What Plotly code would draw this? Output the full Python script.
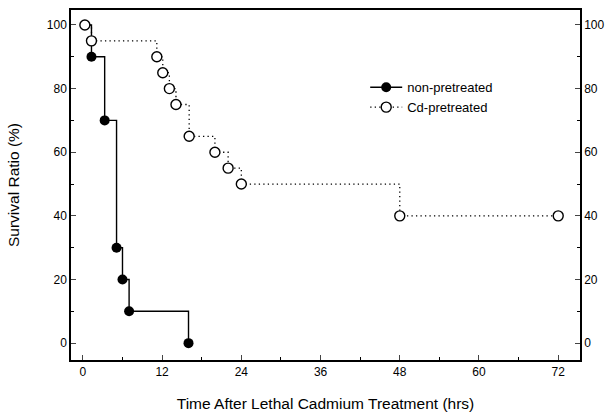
import plotly.graph_objects as go

# Data
non_time = [0.3, 1.3, 3.3, 5.1, 6.0, 7.0, 16.0]
non_surv = [100, 90, 70, 30, 20, 10, 0]
cd_time = [0.3, 1.3, 11.2, 12.1, 13.1, 14.1, 16.1, 20.0, 22.0, 24.0, 48.0, 72.0]
cd_surv = [100, 95, 90, 85, 80, 75, 65, 60, 55, 50, 40, 40]
x_ticks = [0, 12, 24, 36, 48, 60, 72]
y_ticks = [0, 20, 40, 60, 80, 100]

DOT = "1.3px,3.2px"

fig = go.Figure()

# non-pretreated: step line (starts at t0 without a visible marker)
fig.add_trace(go.Scatter(
    x=non_time, y=non_surv, mode="lines", line=dict(shape="hv", color="black", width=1.4),
    showlegend=False, hoverinfo="skip"))
fig.add_trace(go.Scatter(
    x=non_time[1:], y=non_surv[1:], mode="markers",
    marker=dict(symbol="circle", size=10, color="black"),
    showlegend=False))
# Cd-pretreated
fig.add_trace(go.Scatter(
    x=cd_time, y=cd_surv, mode="lines+markers",
    line=dict(shape="hv", color="black", width=1.3, dash=DOT),
    marker=dict(symbol="circle", size=10, color="white", line=dict(color="black", width=1.4)),
    showlegend=False))

# legend entries
fig.add_trace(go.Scatter(
    x=[None], y=[None], mode="lines+markers", name="non-pretreated",
    line=dict(color="black", width=1.4),
    marker=dict(symbol="circle", size=10, color="black")))
fig.add_trace(go.Scatter(
    x=[None], y=[None], mode="lines+markers", name="Cd-pretreated",
    line=dict(color="black", width=1.3, dash=DOT),
    marker=dict(symbol="circle", size=10, color="white", line=dict(color="black", width=1.4))))

# dummy trace for right axis
fig.add_trace(go.Scatter(x=[None], y=[None], yaxis="y2", showlegend=False))

font = dict(family="Liberation Sans, Arial, sans-serif", size=12, color="black")
yr = [-5.3, 104.7]

fig.update_layout(
    width=614, height=414,
    margin=dict(l=71, r=34, t=10, b=54),
    paper_bgcolor="white", plot_bgcolor="white",
    font=font,
    showlegend=True,
    legend=dict(x=0.578, y=0.822, xanchor="left", yanchor="top",
                bgcolor="rgba(0,0,0,0)", font=dict(size=13), tracegroupgap=0,
                itemwidth=32),
    xaxis=dict(range=[-1.8, 75.3], tickvals=x_ticks, ticks="inside", ticklen=5,
               showline=True, linecolor="black", linewidth=1.5, mirror=True,
               showgrid=False, zeroline=False, automargin=False,
               minor=dict(ticks="inside", dtick=6, tick0=0, ticklen=3, tickcolor="black"),
               title=dict(text="Time After Lethal Cadmium Treatment (hrs)", font=dict(size=15.5), standoff=20),
               tickfont=dict(size=12)),
    yaxis=dict(range=yr, tickvals=y_ticks, ticks="inside", ticklen=5,
               showline=True, linecolor="black", linewidth=1.5, mirror=True,
               showgrid=False, zeroline=False, automargin=False,
               minor=dict(ticks="inside", dtick=10, tick0=0, ticklen=3, tickcolor="black"),
               title=dict(text="Survival Ratio (%)", font=dict(size=15.5), standoff=23),
               tickfont=dict(size=12)),
    yaxis2=dict(range=yr, tickvals=y_ticks, ticks="inside", ticklen=5,
                overlaying="y", side="right", showline=True, linecolor="black", linewidth=1.5,
                showgrid=False, zeroline=False, automargin=False,
                minor=dict(ticks="inside", dtick=10, tick0=0, ticklen=3, tickcolor="black"),
                tickfont=dict(size=12)),
)

fig.write_html("out.html")
